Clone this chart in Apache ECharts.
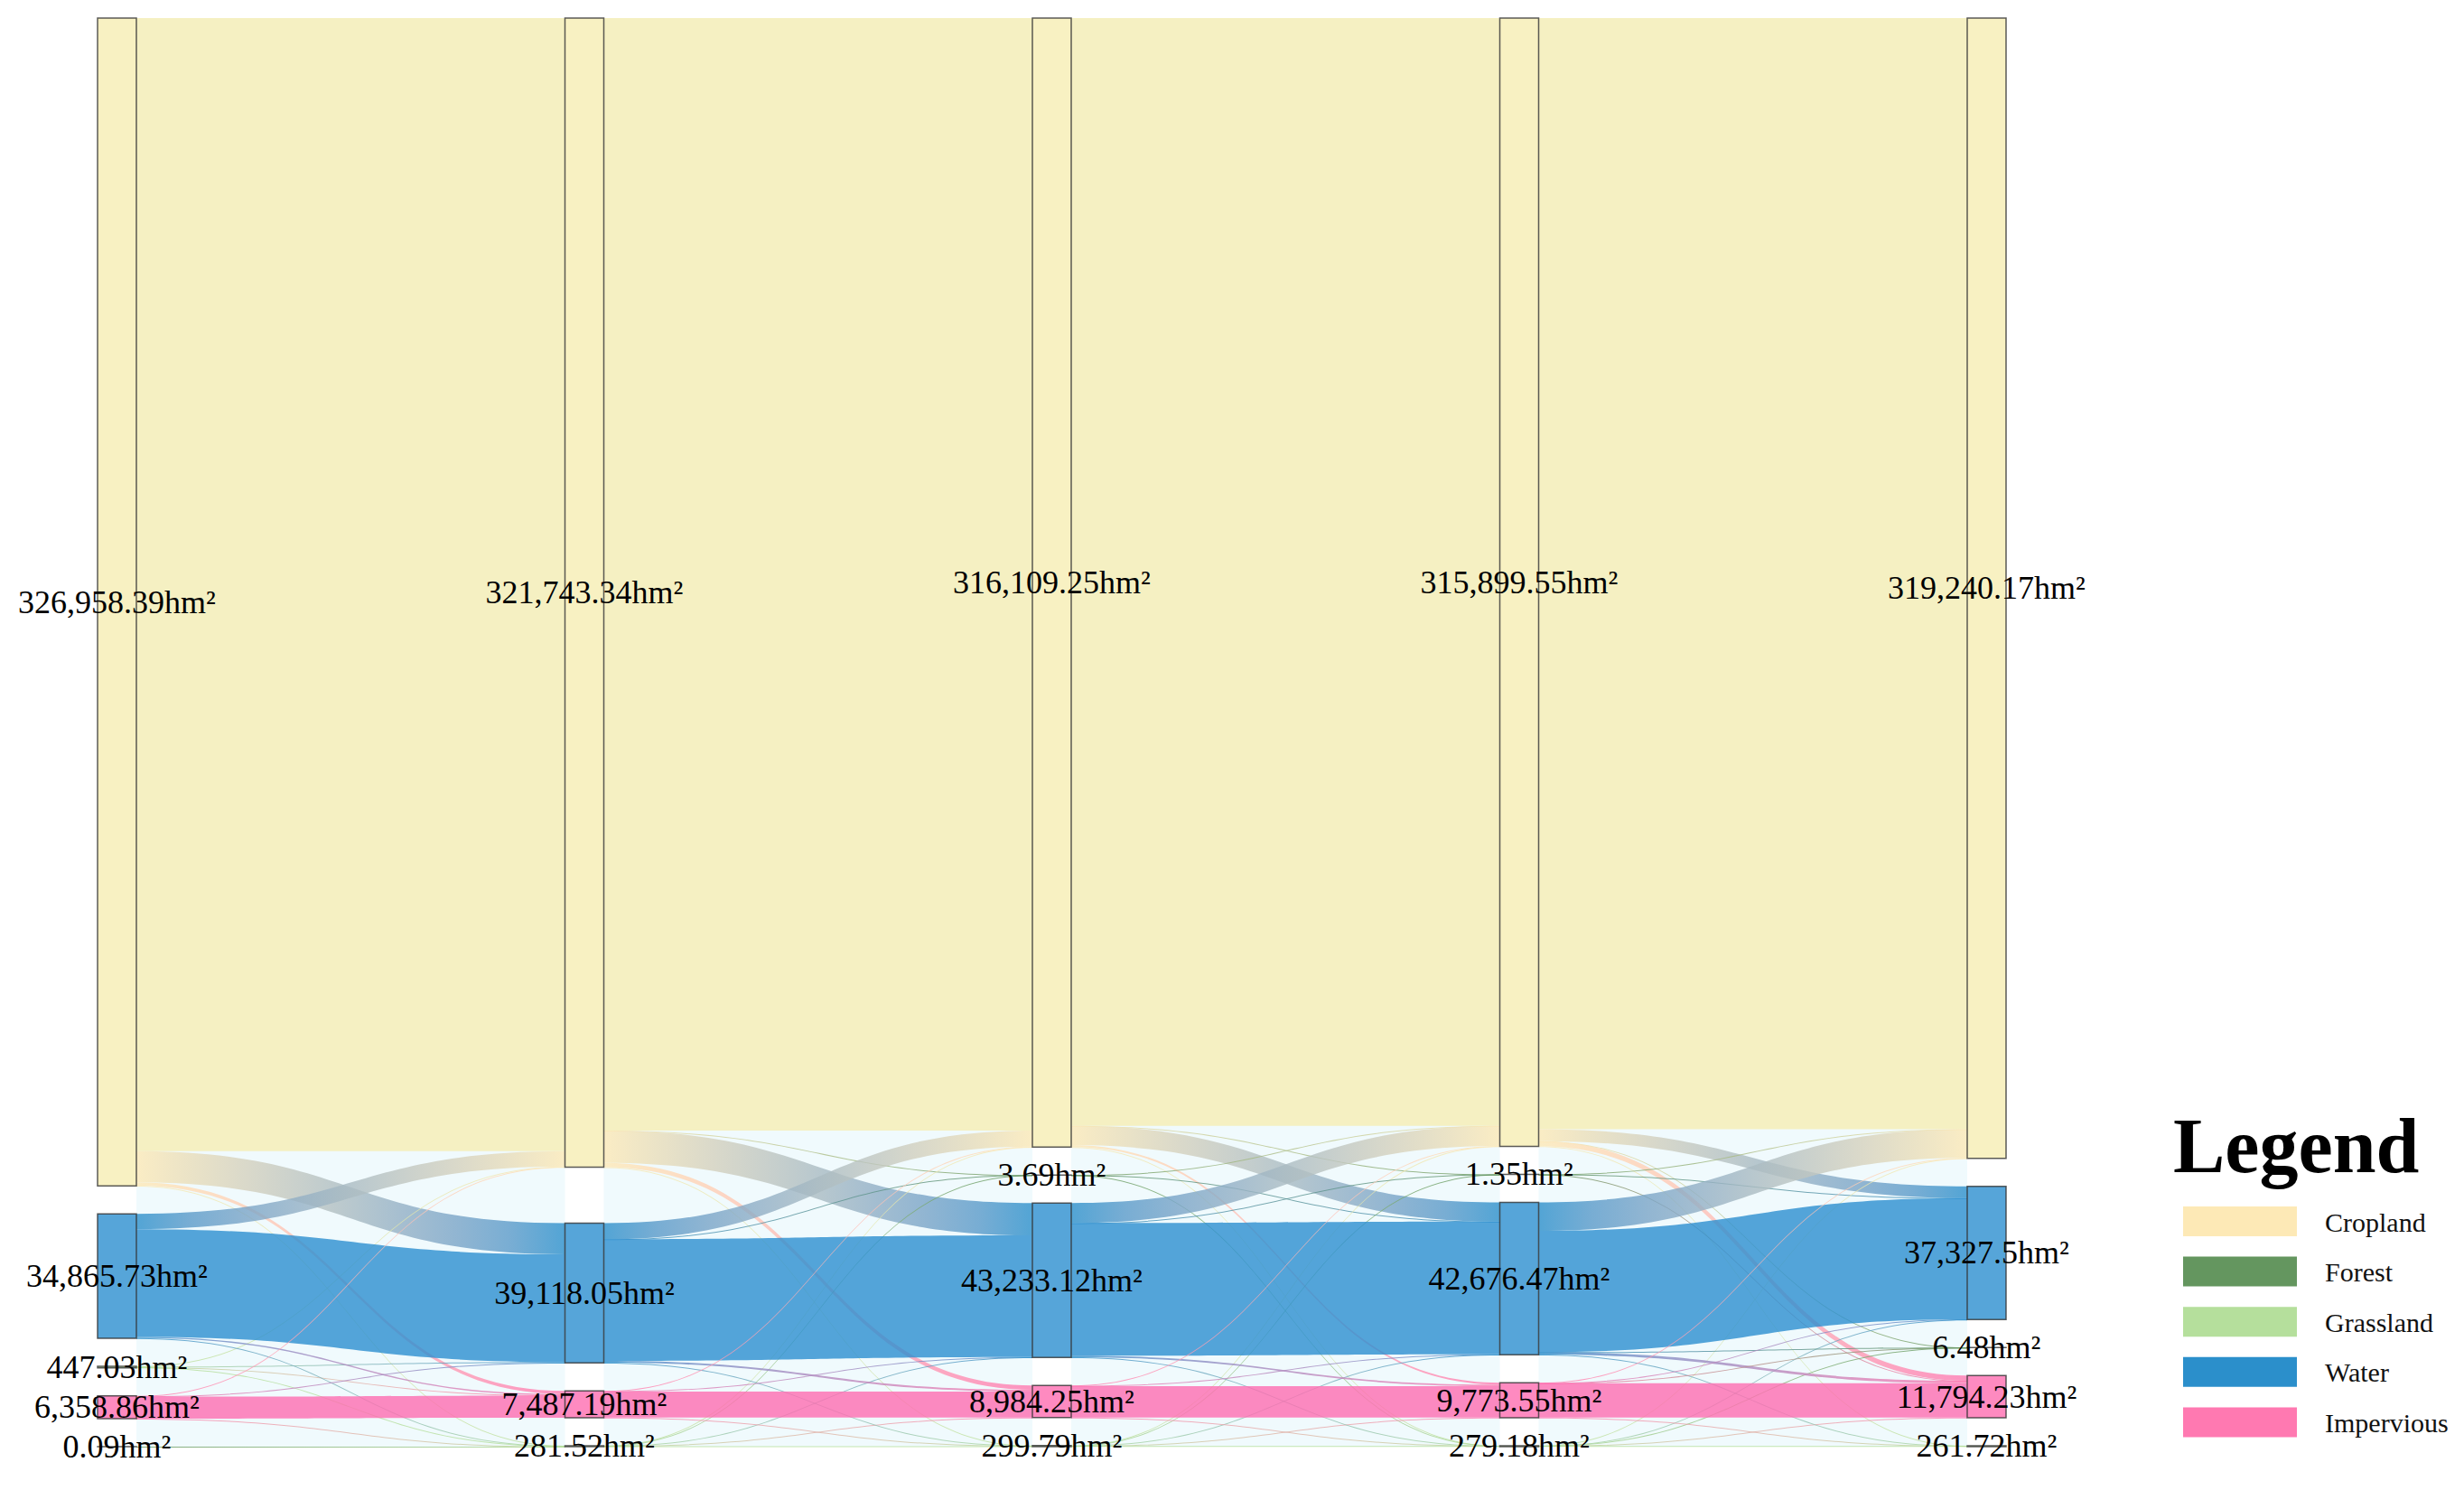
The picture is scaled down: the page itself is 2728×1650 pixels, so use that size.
<!DOCTYPE html>
<html>
<head>
<meta charset="utf-8">
<script src="https://cdn.jsdelivr.net/npm/echarts@6/dist/echarts.min.js"></script>
<style>
html,body{margin:0;padding:0;background:#ffffff;}
#chart{width:2728px;height:1650px;}
</style>
</head>
<body>
<div id="chart"></div>
<script>
// ---- categories and colours ----
const categories = ['Cropland', 'Forest', 'Grassland', 'Water', 'Impervious'];
const chartColors = ['#f6edb3', '#64965f', '#b5df9c', '#2c8ecf', '#fe6db0'];
const legendColors = ['#fde9b6', '#64965f', '#b5df9c', '#2b8fcb', '#ff79b1'];

// ---- node areas (hm²) per stage, in category order ----
const area1 = [326958.39, 0.09, 447.03, 34865.73, 6358.86];
const area2 = [321743.34, 0, 281.52, 39118.05, 7487.19];
const area3 = [316109.25, 3.69, 299.79, 43233.12, 8984.25];
const area4 = [315899.55, 1.35, 279.18, 42676.47, 9773.55];
const area5 = [319240.17, 6.48, 261.72, 37327.5, 11794.23];

// ---- vertical order of the nodes in each stage ----
const order1 = ['Cropland', 'Water', 'Grassland', 'Impervious', 'Forest'];
const order2 = ['Cropland', 'Forest', 'Water', 'Impervious', 'Grassland'];
const order3 = ['Cropland', 'Forest', 'Water', 'Impervious', 'Grassland'];
const order4 = ['Cropland', 'Forest', 'Water', 'Impervious', 'Grassland'];
const order5 = ['Cropland', 'Water', 'Forest', 'Impervious', 'Grassland'];

// ---- transitions (rows: from, cols: to; category order) ----
const flow12 = [
  [317253.25, 0, 60, 8728.05, 917.09],
  [0, 0, 0.09, 0, 0],
  [90.09, 0, 149.91, 140, 67.03],
  [4300, 0, 70, 30150, 345.73],
  [100, 0, 1.52, 100, 6157.34]
];
const flow23 = [
  [311469.25, 2, 40, 9045.76, 1186.33],
  [0, 0, 0, 0, 0],
  [60, 1, 150, 50, 20.52],
  [4500, 0.69, 60, 34037.36, 520],
  [80, 0, 49.79, 100, 7257.40]
];
const flow34 = [
  [310161.75, 0.5, 30, 5402.70, 514.30],
  [2, 0, 0.69, 1, 0],
  [65.8, 0.5, 178.49, 40, 15],
  [5600, 0.35, 40, 37142.77, 450],
  [70, 0, 30, 90, 8794.25]
];
const flow45 = [
  [311128.21, 2, 20, 3303.18, 1446.16],
  [0.5, 0, 0, 0.35, 0.5],
  [31.46, 1, 201.72, 20, 25],
  [8000, 2.5, 30, 33943.97, 700],
  [80, 0.98, 10, 60, 9622.57]
];

const areas = [area1, area2, area3, area4, area5];
const orders = [order1, order2, order3, order4, order5];
const flows = [flow12, flow23, flow34, flow45];

// ---- colour helpers: gradient stops interpolated in CIE Lab ----
function toLin(c) { c /= 255; return c <= 0.04045 ? c / 12.92 : Math.pow((c + 0.055) / 1.055, 2.4); }
function toSrgb(c) { const v = c <= 0.0031308 ? 12.92 * c : 1.055 * Math.pow(c, 1 / 2.4) - 0.055; return Math.round(Math.max(0, Math.min(1, v)) * 255); }
function hexToLab(hex) {
  const n = parseInt(hex.slice(1), 16);
  const R = toLin((n >> 16) & 255), G = toLin((n >> 8) & 255), Bc = toLin(n & 255);
  const X = (0.4124 * R + 0.3576 * G + 0.1805 * Bc) / 0.95047;
  const Y = (0.2126 * R + 0.7152 * G + 0.0722 * Bc);
  const Z = (0.0193 * R + 0.1192 * G + 0.9505 * Bc) / 1.08883;
  const f = t => t > 0.008856 ? Math.cbrt(t) : 7.787 * t + 16 / 116;
  const fx = f(X), fy = f(Y), fz = f(Z);
  return [116 * fy - 16, 500 * (fx - fy), 200 * (fy - fz)];
}
function labToHex(lab) {
  const fy = (lab[0] + 16) / 116, fx = fy + lab[1] / 500, fz = fy - lab[2] / 200;
  const inv = f => { const c = f * f * f; return c > 0.008856 ? c : (f - 16 / 116) / 7.787; };
  const X = inv(fx) * 0.95047, Y = inv(fy), Z = inv(fz) * 1.08883;
  const r = toSrgb(3.2406 * X - 1.5372 * Y - 0.4986 * Z);
  const g = toSrgb(-0.9689 * X + 1.8758 * Y + 0.0415 * Z);
  const b = toSrgb(0.0557 * X - 0.2040 * Y + 1.0570 * Z);
  return '#' + ((1 << 24) | (r << 16) | (g << 8) | b).toString(16).slice(1);
}
function labGradient(c1, c2) {
  const a = hexToLab(c1), b = hexToLab(c2), stops = [];
  for (let k = 0; k <= 8; k++) {
    const t = k / 8;
    stops.push({ offset: t, color: labToHex([a[0] + (b[0] - a[0]) * t, a[1] + (b[1] - a[1]) * t, a[2] + (b[2] - a[2]) * t]) });
  }
  return { type: 'linear', x: 0, y: 0, x2: 1, y2: 0, colorStops: stops };
}

function nodeName(cat, stage) { return cat + ' ' + (stage + 1); }

const nodes = [];
orders.forEach(function (ord, s) {
  ord.forEach(function (cat) {
    const ci = categories.indexOf(cat);
    const v = areas[s][ci];
    const node = { name: nodeName(cat, s), value: v, depth: s, itemStyle: { color: chartColors[ci] } };
    if (!(v > 0)) { node.itemStyle.opacity = 0; node.label = { show: false }; }
    nodes.push(node);
  });
});

const links = [];
flows.forEach(function (m, s) {
  m.forEach(function (row, i) {
    row.forEach(function (v, j) {
      if (v > 0) {
        links.push({
          source: nodeName(categories[i], s),
          target: nodeName(categories[j], s + 1),
          value: v,
          lineStyle: { color: i === j ? chartColors[i] : labGradient(legendColors[i], legendColors[j]) }
        });
      }
    });
  });
});

function fmt(v) {
  return Number(v).toLocaleString('en-US', { maximumFractionDigits: 2 }) + 'hm\u00b2';
}

// ---- layout settings ----
const L = 108, R = 507, T = 20, B = 48, NW = 43, GAP = 31;
const W = 2728, H = 1650;

const chart = echarts.init(document.getElementById('chart'), null, { renderer: 'svg' });

// faint tint between node columns (derived from the same layout settings)
const kx = (W - L - R - NW) / (orders.length - 1);
const tint = [];
for (let s = 0; s < orders.length - 1; s++) {
  tint.push({
    type: 'rect', z: -10, silent: true,
    shape: { x: L + s * kx + NW, y: T, width: kx - NW, height: H - T - B },
    style: { fill: '#f0fafd' }
  });
}

// legend drawn as text + swatches
const legendEls = [{
  type: 'text', left: 2406, top: 1226,
  style: { text: 'Legend', font: 'bold 86px Liberation Serif', fill: '#000' }
}];
categories.forEach(function (c, i) {
  const y = 1336 + i * 55.6;
  legendEls.push({
    type: 'rect', shape: { x: 2417, y: y, width: 126, height: 33 },
    style: { fill: legendColors[i] }
  });
  legendEls.push({
    type: 'text', x: 2574, y: y + 17,
    style: { text: c, font: '30px Liberation Serif', fill: '#111', verticalAlign: 'middle', align: 'left' }
  });
});

chart.setOption({
  backgroundColor: '#ffffff',
  animation: false,
  graphic: tint.concat(legendEls),
  series: [{
    type: 'sankey',
    left: L, right: R, top: T, bottom: B,
    nodeWidth: NW,
    nodeGap: GAP,
    layoutIterations: 0,
    draggable: false,
    emphasis: { disabled: true },
    data: nodes,
    links: links,
    itemStyle: { borderColor: '#333', borderWidth: 1.5, opacity: 0.8 },
    lineStyle: { opacity: 0.8, curveness: 0.5 },
    label: {
      show: true,
      position: 'inside',
      color: '#000',
      fontSize: 36,
      fontFamily: 'Liberation Serif',
      formatter: function (p) { return p.value > 0 ? fmt(p.value) : ''; }
    }
  }]
});
</script>
</body>
</html>
